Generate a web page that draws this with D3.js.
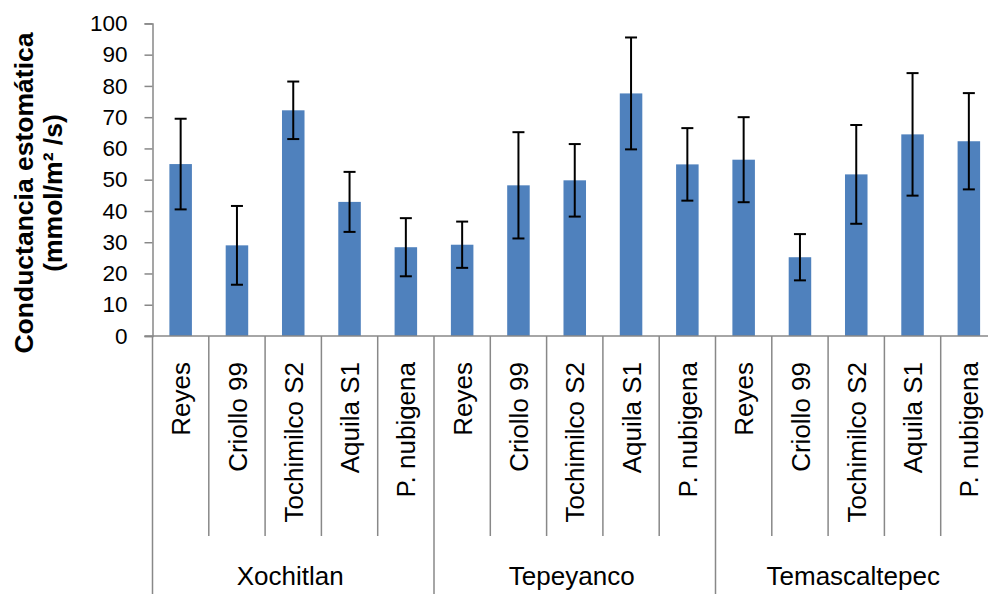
<!DOCTYPE html>
<html>
<head>
<meta charset="utf-8">
<script src="https://cdn.jsdelivr.net/npm/d3@7"></script>
<style>
  html, body { margin: 0; padding: 0; background: #fff; }
  svg { display: block; font-family: "Liberation Sans", Arial, sans-serif; }
</style>
</head>
<body>
<svg id="chart" width="988" height="594"></svg>
<script>
// Sites and varieties (two-level category axis)
const sites = ["Xochitlan", "Tepeyanco", "Temascaltepec"];
const varieties = ["Reyes", "Criollo 99", "Tochimilco S2", "Aquila S1", "P. nubigena"];

// Mean stomatal conductance per site, in variety order
const xochitlanMeans     = [55.0, 29.0, 72.2, 42.9, 28.4];
const tepeyancoMeans     = [29.2, 48.2, 49.8, 77.6, 54.9];
const temascaltepecMeans = [56.4, 25.2, 51.7, 64.5, 62.3];

// Error bar half-widths (±)
const xochitlanErr     = [14.5, 12.6, 9.2, 9.6, 9.3];
const tepeyancoErr     = [7.4, 17.0, 11.6, 17.9, 11.6];
const temascaltepecErr = [13.6, 7.4, 15.8, 19.6, 15.4];

const yTicks = [0, 10, 20, 30, 40, 50, 60, 70, 80, 90, 100];

const meansBySite = [xochitlanMeans, tepeyancoMeans, temascaltepecMeans];
const errBySite = [xochitlanErr, tepeyancoErr, temascaltepecErr];

const rows = [];
sites.forEach((s, i) => {
  varieties.forEach((v, j) => {
    rows.push({ site: s, variety: v, key: s + "|" + v, value: meansBySite[i][j], err: errBySite[i][j] });
  });
});

const svg = d3.select("#chart");
const axisColor = "#888888";
const barColor = "#4F81BD";

const plotLeft = 152.5, plotRight = 997, plotTop = 23.4, plotBottom = 336;
const sepBottom = 536, groupBottom = 594;

const x = d3.scaleBand()
  .domain(rows.map(d => d.key))
  .range([plotLeft, plotRight])
  .paddingInner(0.6)
  .paddingOuter(0.3);
const step = x.step();

const y = d3.scaleLinear().domain([0, 100]).range([plotBottom, plotTop]);

// Y axis
const yAxis = d3.axisLeft(y).tickValues(yTicks).tickSize(8).tickPadding(17);
const gy = svg.append("g").attr("transform", `translate(${plotLeft},0)`).call(yAxis);
gy.select(".domain").attr("stroke", axisColor).attr("stroke-width", 1.5);
gy.selectAll(".tick line").attr("stroke", axisColor).attr("stroke-width", 1.5);
gy.selectAll(".tick text")
  .attr("fill", "#000")
  .style("font-size", "22.5px")
  .style("font-family", "'Liberation Sans', Arial, sans-serif");

// Bars
svg.append("g").selectAll("rect").data(rows).join("rect")
  .attr("x", d => x(d.key))
  .attr("width", x.bandwidth())
  .attr("y", d => y(d.value))
  .attr("height", d => y(0) - y(d.value))
  .attr("fill", barColor);

// Error bars
const cap = 6;
const eb = svg.append("g").attr("stroke", "#000").attr("stroke-width", 2).attr("fill", "none");
rows.forEach(d => {
  const cx = x(d.key) + x.bandwidth() / 2;
  const hi = y(d.value + d.err), lo = y(d.value - d.err);
  eb.append("line").attr("x1", cx).attr("x2", cx).attr("y1", hi).attr("y2", lo);
  eb.append("line").attr("x1", cx - cap).attr("x2", cx + cap).attr("y1", hi).attr("y2", hi);
  eb.append("line").attr("x1", cx - cap).attr("x2", cx + cap).attr("y1", lo).attr("y2", lo);
});

// X axis baseline
svg.append("line")
  .attr("x1", plotLeft - 8).attr("x2", plotRight)
  .attr("y1", plotBottom).attr("y2", plotBottom)
  .attr("stroke", axisColor).attr("stroke-width", 1.5);

// Separators between varieties (short) and sites (long)
const gx = svg.append("g").attr("stroke", axisColor).attr("stroke-width", 1.5);
rows.forEach((d, i) => {
  const xl = x(d.key) - x.paddingOuter() * step;
  const isGroupStart = i % varieties.length === 0;
  gx.append("line")
    .attr("x1", xl).attr("x2", xl)
    .attr("y1", plotBottom).attr("y2", isGroupStart ? groupBottom : sepBottom);
});
gx.append("line").attr("x1", plotRight).attr("x2", plotRight).attr("y1", plotBottom).attr("y2", groupBottom);

// Variety labels (rotated)
svg.append("g").selectAll("text").data(rows).join("text")
  .attr("transform", d => `translate(${x(d.key) + x.bandwidth() / 2},362) rotate(-90)`)
  .attr("text-anchor", "end")
  .attr("dy", "0.37em")
  .style("font-size", "26px")
  .attr("fill", "#000")
  .text(d => d.variety);

// Site labels
svg.append("g").selectAll("text").data(sites).join("text")
  .attr("x", (s, i) => {
    const a = x(s + "|" + varieties[0]) - x.paddingOuter() * step;
    const b = a + step * varieties.length;
    return (a + b) / 2 - 3;
  })
  .attr("y", 585)
  .attr("text-anchor", "middle")
  .style("font-size", "26px")
  .attr("fill", "#000")
  .text(s => s);

// Y axis title
const title = svg.append("text")
  .attr("transform", "translate(0,193) rotate(-90)")
  .attr("text-anchor", "middle")
  .style("font-size", "26.5px")
  .style("font-weight", "bold")
  .attr("fill", "#000");
title.append("tspan").attr("x", 0).attr("y", 33).text("Conductancia estomática");
title.append("tspan").attr("x", 0).attr("y", 62).text("(mmol/m² /s)");
</script>
</body>
</html>
